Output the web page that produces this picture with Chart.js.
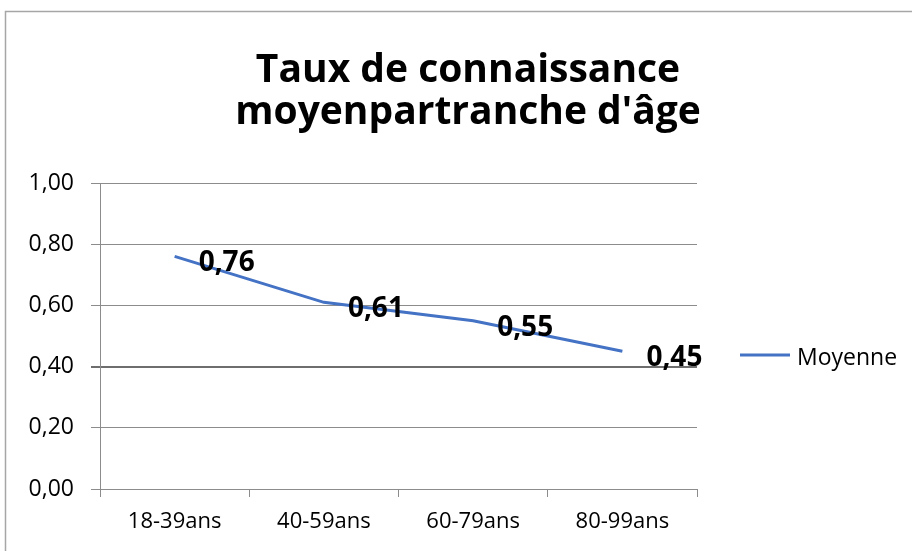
<!DOCTYPE html>
<html>
<head>
<meta charset="utf-8">
<script src="https://cdn.jsdelivr.net/npm/chart.js@4/dist/chart.umd.min.js"></script>
<style>
  html, body { margin: 0; padding: 0; background: #fff; }
  #wrap { width: 912px; height: 551px; }
</style>
</head>
<body>
<div id="wrap"><canvas id="c" width="912" height="551"></canvas></div>
<script>
const categories = ['18-39ans', '40-59ans', '60-79ans', '80-99ans'];
const moyenne = [0.76, 0.61, 0.55, 0.45];
const yTickLabels = ['0,00', '0,20', '0,40', '0,60', '0,80', '1,00'];
const titleLines = ['Taux de connaissance', "moyenpartranche d'âge"];

const blue = '#4472C4';
const grid = '#8c8c8c';

// Excel-style frame around the chart
const frame = {
  id: 'frame',
  beforeDraw(chart) {
    const ctx = chart.ctx;
    ctx.save();
    ctx.fillStyle = '#fff';
    ctx.fillRect(0, 0, chart.width, chart.height);
    ctx.strokeStyle = '#a6a6a6';
    ctx.lineWidth = 1.5;
    ctx.strokeRect(5.5, 11.5, chart.width + 20, chart.height + 20);
    ctx.restore();
  }
};

// values printed right of each point
const valueLabels = {
  id: 'valueLabels',
  afterDatasetsDraw(chart) {
    const ctx = chart.ctx;
    const meta = chart.getDatasetMeta(0);
    ctx.save();
    ctx.font = 'bold 28px "Open Sans"';
    ctx.fillStyle = '#000';
    ctx.textAlign = 'left';
    ctx.textBaseline = 'middle';
    meta.data.forEach((pt, i) => {
      const v = chart.data.datasets[0].data[i];
      ctx.fillText(v.toFixed(2).replace('.', ','), pt.x + 24, pt.y + 7);
    });
    ctx.restore();
  }
};

// legend on the right, drawn in the space kept by the empty right axis
const sideLegend = {
  id: 'sideLegend',
  afterDraw(chart) {
    const ctx = chart.ctx;
    const ds = chart.data.datasets[0];
    ctx.save();
    ctx.strokeStyle = ds.borderColor;
    ctx.lineWidth = 3;
    ctx.beginPath();
    ctx.moveTo(740, 355);
    ctx.lineTo(790, 355);
    ctx.stroke();
    ctx.font = '23px "Open Sans"';
    ctx.fillStyle = '#000';
    ctx.textBaseline = 'middle';
    ctx.fillText(ds.label, 797, 358);
    ctx.restore();
  }
};

new Chart(document.getElementById('c'), {
  type: 'line',
  data: {
    labels: categories,
    datasets: [{
      label: 'Moyenne',
      data: moyenne,
      borderColor: blue,
      backgroundColor: blue,
      borderWidth: 3,
      pointRadius: 0,
      tension: 0
    }]
  },
  options: {
    responsive: false,
    animation: false,
    layout: { padding: { left: 24, right: 0, top: 0, bottom: 0 } },
    plugins: {
      legend: { display: false },
      tooltip: { enabled: false },
      title: {
        display: true,
        text: titleLines,
        color: '#000',
        font: { family: 'Open Sans', weight: 'bold', size: 39, lineHeight: '42px' },
        padding: { top: 50, bottom: 49 }
      }
    },
    scales: {
      x: {
        offset: true,
        grid: { offset: true, drawOnChartArea: false, drawTicks: true, tickLength: 8, color: grid },
        border: { display: true, color: grid },
        ticks: { color: '#000', padding: 12, font: { family: 'Open Sans', size: 22 } },
        afterFit(scale) { scale.height = 62; }
      },
      y: {
        min: 0,
        max: 1,
        ticks: {
          stepSize: 0.2,
          color: '#000',
          padding: 17,
          font: { family: 'Open Sans', size: 23 },
          callback: (v, i) => yTickLabels[i]
        },
        grid: {
          tickLength: 9,
          color: ctx => (ctx.tick && Math.abs(ctx.tick.value - 0.4) < 1e-6) ? '#6e6e6e' : grid,
          lineWidth: ctx => (ctx.tick && Math.abs(ctx.tick.value - 0.4) < 1e-6) ? 2 : 1
        },
        border: { display: true, color: grid },
        afterFit(scale) { scale.width = 76; }
      },
      side: {
        position: 'right',
        display: true,
        grid: { display: false },
        border: { display: false },
        ticks: { display: false },
        afterFit(scale) { scale.width = 215; }
      }
    }
  },
  plugins: [frame, valueLabels, sideLegend]
});
</script>
</body>
</html>
